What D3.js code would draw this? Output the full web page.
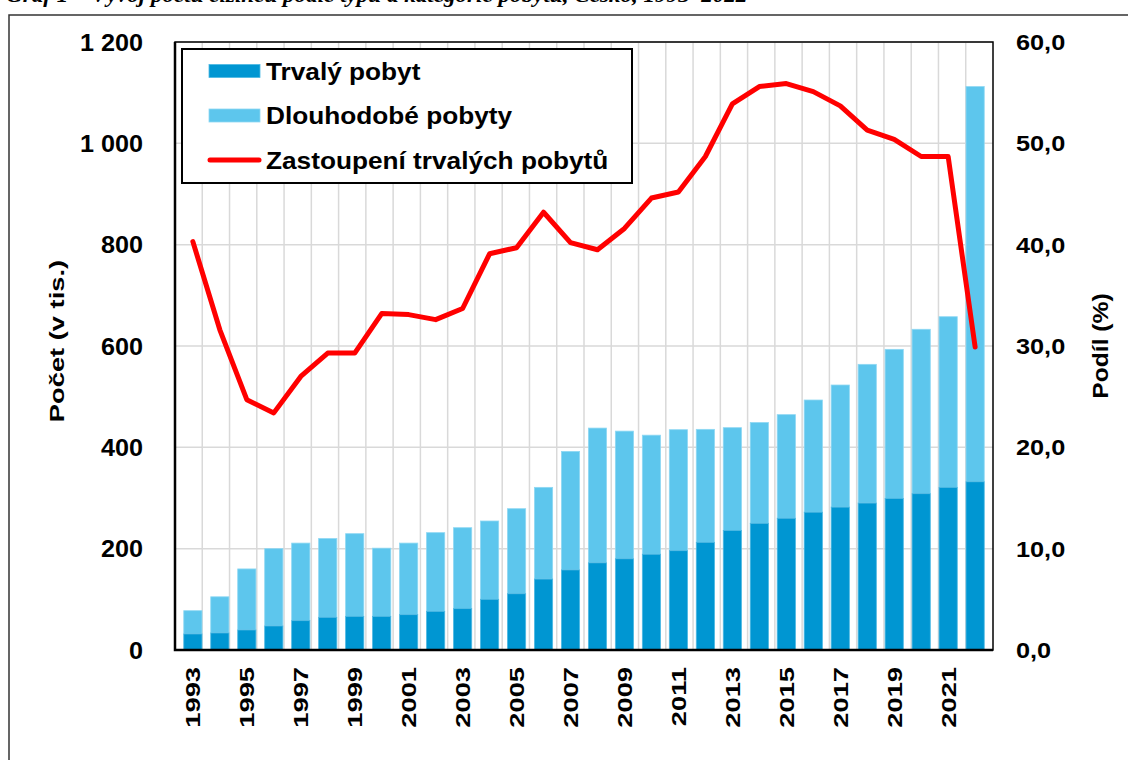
<!DOCTYPE html>
<html>
<head>
<meta charset="utf-8">
<script src="https://cdn.jsdelivr.net/npm/d3@7"></script>
<style>
  body { margin: 0; background: #fff; }
  svg { display: block; }
</style>
</head>
<body>
<svg width="1128" height="760"></svg>
<script>
// data (thousands of foreigners; share of permanent residence in %)
const years = d3.range(1993, 2023);
const trvaly = [31.6, 33.6, 39.5, 47.4, 57.9, 64.5, 66.4, 66.4, 69.7, 76.3,
  81.6, 100, 111, 140, 158, 172, 180, 189, 196, 212.5,
  236, 250, 260, 272, 282, 290, 299, 308.5, 321, 332];
const celkem = [77.6, 105, 160, 200, 211, 220, 229.6, 201, 211, 231.6,
  241.4, 254.6, 278.9, 321, 392, 438, 432, 424, 434.8, 435.5,
  438.8, 449, 464.5, 493.4, 523, 563.8, 593.4, 633, 657.8, 1112];
const podil = [40.3, 31.6, 24.7, 23.4, 27.0, 29.3, 29.3, 33.2, 33.1, 32.6,
  33.7, 39.1, 39.7, 43.2, 40.2, 39.5, 41.6, 44.6, 45.2, 48.7,
  53.9, 55.6, 55.9, 55.1, 53.7, 51.3, 50.4, 48.7, 48.7, 29.9];
const leftTicks = [0, 200, 400, 600, 800, 1000, 1200];
const rightTicks = [0, 10, 20, 30, 40, 50, 60];
const legendLabels = ["Trvalý pobyt", "Dlouhodobé pobyty", "Zastoupení trvalých pobytů"];

const colDark = "#0096d2", colLight = "#5dc6ed", colLine = "#ff0000";
const font = "'Liberation Sans', Arial, sans-serif";

const svg = d3.select("svg");
const plot = { left: 175, right: 993, top: 42, bottom: 650 };

const x = d3.scaleBand().domain(years).range([plot.left, plot.right]).padding(0.325);
const xGrid = d3.scaleBand().domain(years).range([plot.left, plot.right]).padding(0);
const y = d3.scaleLinear().domain([0, 1200]).range([plot.bottom, plot.top]);
const y2 = d3.scaleLinear().domain([0, 60]).range([plot.bottom, plot.top]);

// stretched text helper
function label(g, str, tx, ty, opts) {
  const o = Object.assign({ size: 22, sx: 1, rot: 0, anchor: "start" }, opts);
  return g.append("text")
    .attr("transform", `translate(${tx},${ty}) rotate(${o.rot}) scale(${o.sx},1)`)
    .attr("text-anchor", o.anchor)
    .attr("font-family", o.family || font)
    .attr("font-weight", "bold")
    .attr("font-style", o.style || "normal")
    .attr("font-size", o.size)
    .attr("fill", "#000")
    .text(str);
}

// caption (cut off at the top like in the source) and outer frame
label(svg, "Graf 1 – Vývoj počtu cizinců podle typu a kategorie pobytu, Česko, 1993–2022", 6, 2,
  { size: 22, sx: 1.05, family: "'Liberation Serif', 'Times New Roman', serif", style: "italic" });
svg.append("path")
  .attr("d", "M9,780 V15 H1140")
  .attr("fill", "none").attr("stroke", "#333").attr("stroke-width", 1.5);

// gridlines
svg.append("g").selectAll("line.h")
  .data(leftTicks.slice(1))
  .join("line")
  .attr("x1", plot.left).attr("x2", plot.right)
  .attr("y1", d => y(d)).attr("y2", d => y(d))
  .attr("stroke", "#d9d9d9").attr("stroke-width", 1.5);
svg.append("g").selectAll("line.v")
  .data(years.slice(1))
  .join("line")
  .attr("x1", d => xGrid(d)).attr("x2", d => xGrid(d))
  .attr("y1", plot.top).attr("y2", plot.bottom)
  .attr("stroke", "#d9d9d9").attr("stroke-width", 1.5);

// stacked bars
const bars = svg.append("g");
bars.selectAll("rect.light")
  .data(years)
  .join("rect")
  .attr("x", d => x(d))
  .attr("width", x.bandwidth())
  .attr("y", (d, i) => y(celkem[i]))
  .attr("height", (d, i) => y(trvaly[i]) - y(celkem[i]))
  .attr("fill", colLight).attr("stroke", "#8fd8f3").attr("stroke-width", 0.8);
bars.selectAll("rect.dark")
  .data(years)
  .join("rect")
  .attr("x", d => x(d))
  .attr("width", x.bandwidth())
  .attr("y", (d, i) => y(trvaly[i]))
  .attr("height", (d, i) => y(0) - y(trvaly[i]))
  .attr("fill", colDark).attr("stroke", "#4db8e3").attr("stroke-width", 0.8);

// share line
const line = d3.line()
  .x((d, i) => x(years[i]) + x.bandwidth() / 2)
  .y(d => y2(d));
svg.append("path")
  .datum(podil)
  .attr("d", line)
  .attr("fill", "none")
  .attr("stroke", colLine)
  .attr("stroke-width", 5)
  .attr("stroke-linejoin", "round")
  .attr("stroke-linecap", "round");

// plot frame
svg.append("rect")
  .attr("x", plot.left).attr("y", plot.top)
  .attr("width", plot.right - plot.left).attr("height", plot.bottom - plot.top)
  .attr("fill", "none").attr("stroke", "#000").attr("stroke-width", 1.5);
svg.append("path")
  .attr("d", `M${plot.left},${plot.top} V${plot.bottom} H${plot.right}`)
  .attr("fill", "none").attr("stroke", "#000").attr("stroke-width", 2.5);

// left axis labels
const fmtLeft = d => d3.format(",")(d).replace(",", " ");
const axL = svg.append("g");
leftTicks.forEach(t => label(axL, fmtLeft(t), 143, y(t) + 8.5, { size: 24, sx: 1.05, anchor: "end" }));

// right axis labels
const fmtRight = d => d3.format(".1f")(d).replace(".", ",");
const axR = svg.append("g");
rightTicks.forEach(t => label(axR, fmtRight(t), 1016, y2(t) + 8, { size: 22, sx: 1.15 }));

// x axis labels (odd years)
const axX = svg.append("g");
years.filter(d => d % 2 === 1).forEach(d =>
  label(axX, String(d), x(d) + x.bandwidth() / 2 + 7.5, 667, { size: 21, sx: 1.3, rot: -90, anchor: "end" }));

// axis titles
label(svg, "Počet (v tis.)", 64, 341, { size: 21, sx: 1.3, rot: -90, anchor: "middle" });
label(svg, "Podíl (%)", 1108, 346, { size: 22, sx: 1.12, rot: -90, anchor: "middle" });

// legend
const lg = svg.append("g");
lg.append("rect")
  .attr("x", 182).attr("y", 49).attr("width", 450).attr("height", 134)
  .attr("fill", "#fff").attr("stroke", "#000").attr("stroke-width", 2);
const rowY = [71, 115.5, 160];
lg.append("rect").attr("x", 209).attr("y", rowY[0] - 6.5).attr("width", 51).attr("height", 13)
  .attr("fill", colDark).attr("stroke", "#4db8e3").attr("stroke-width", 0.8);
lg.append("rect").attr("x", 209).attr("y", rowY[1] - 6.5).attr("width", 51).attr("height", 13)
  .attr("fill", colLight).attr("stroke", "#8fd8f3").attr("stroke-width", 0.8);
lg.append("line").attr("x1", 210).attr("x2", 259).attr("y1", rowY[2]).attr("y2", rowY[2])
  .attr("stroke", colLine).attr("stroke-width", 5).attr("stroke-linecap", "round");
legendLabels.forEach((t, i) => label(lg, t, 266, rowY[i] + 8.5, { size: 23, sx: 1.14 }));
</script>
</body>
</html>
